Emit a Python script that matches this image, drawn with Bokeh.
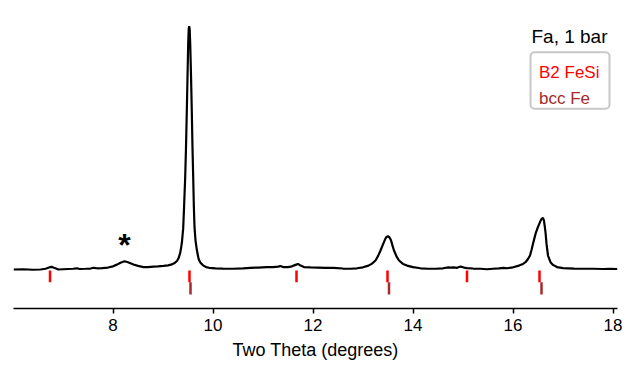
from bokeh.plotting import figure
from bokeh.models import FixedTicker, Label, BoxAnnotation, Range1d
from bokeh.embed import file_html
from bokeh.resources import INLINE
from bokeh.core.properties import value

# ---- data ----
two_theta = [
    6.01, 6.20, 6.40, 6.55, 6.65, 6.72, 6.77, 6.82, 6.91, 7.00, 7.10, 7.20, 7.28, 7.33,
    7.45, 7.55, 7.62, 7.68, 7.78, 7.90, 8.00, 8.08, 8.15, 8.23, 8.30, 8.41, 8.50, 8.61,
    8.70, 8.81, 8.90, 9.01, 9.10, 9.18, 9.24, 9.28, 9.31, 9.34, 9.36, 9.38, 9.404, 9.42,
    9.444, 9.46, 9.476, 9.49, 9.504, 9.515, 9.524, 9.534, 9.544, 9.56, 9.576, 9.59,
    9.604, 9.617, 9.63, 9.65, 9.676, 9.70, 9.716, 9.75, 9.80, 9.86, 9.92, 10.05, 10.20,
    10.41, 10.60, 10.75, 10.90, 11.08, 11.20, 11.30, 11.35, 11.40, 11.50, 11.58, 11.65,
    11.70, 11.75, 11.82, 11.95, 12.10, 12.25, 12.41, 12.60, 12.75, 12.88, 13.00, 13.11,
    13.18, 13.25, 13.30, 13.35, 13.40, 13.44, 13.47, 13.50, 13.53, 13.56, 13.59, 13.62,
    13.67, 13.72, 13.80, 13.88, 14.00, 14.15, 14.30, 14.45, 14.60, 14.71, 14.76, 14.81,
    14.88, 14.95, 15.02, 15.08, 15.20, 15.35, 15.48, 15.60, 15.72, 15.81, 15.88, 16.00,
    16.12, 16.20, 16.25, 16.30, 16.34, 16.37, 16.40, 16.43, 16.46, 16.50, 16.54, 16.57,
    16.60, 16.62, 16.64, 16.65, 16.67, 16.70, 16.75, 16.80, 16.88, 17.00, 17.22, 17.40,
    17.60, 17.80, 17.95, 18.09,
]
intensity = [
    0.0, 0.1, -0.1, 0.0, 0.3, 0.8, 1.1, 0.7, 0.0, 0.1, 0.2, 0.3, 0.5, 0.2,
    0.3, 0.4, 0.7, 0.5, 0.6, 0.8, 1.3, 2.0, 2.8, 3.4, 3.0, 2.05, 1.5, 0.95,
    1.0, 1.2, 1.3, 1.5, 1.7, 2.1, 2.8, 3.5, 4.6, 6.5, 8.6, 11.5, 17.0, 25.0,
    38.0, 50.0, 65.0, 79.0, 93.0, 99.0, 100.0, 98.5, 93.0, 80.0, 65.0, 50.0,
    38.0, 26.0, 17.5, 12.0, 8.2, 5.5, 4.1, 2.8, 1.7, 1.0, 0.7, 0.5, 0.4,
    0.3, 0.5, 0.7, 0.8, 0.95, 1.0, 1.2, 1.4, 1.0, 1.0, 1.3, 1.9,
    2.3, 1.6, 1.0, 0.9, 0.8, 0.7, 0.7, 0.4, 0.3, 0.5, 0.9, 1.6,
    2.4, 3.7, 5.5, 7.8, 10.3, 12.3, 13.4, 13.7, 13.2, 12.0, 9.8, 7.8,
    5.4, 3.7, 2.3, 1.6, 1.0, 0.5, 0.3, 0.3, 0.5, 0.9, 0.8, 0.9,
    0.7, 1.2, 0.8, 0.6, 0.4, 0.3, 0.1, 0.3, 0.5, 0.7, 0.5, 0.9,
    1.6, 2.3, 3.0, 4.3, 5.75, 8.0, 10.6, 13.0, 15.3, 17.5, 19.5, 20.8,
    21.2, 20.0, 17.0, 15.3, 10.6, 5.75, 3.0, 1.9, 1.0, 0.6, 0.4, 0.3,
    0.3, 0.2, 0.3, 0.2,
]
fesi_peaks = [6.74, 9.53, 11.67, 13.49, 15.08, 16.53]   # B2 FeSi reflections
fe_peaks = [9.55, 13.52, 16.57]                          # bcc Fe reflections
x_ticks = [8, 10, 12, 14, 16, 18]
title_text = "Fa, 1 bar"
legend_labels = ["B2 FeSi", "bcc Fe"]
x_label = "Two Theta (degrees)"
star_pos = (8.23, 9.9)

FONT = "Liberation Sans"
RED = "#ff0000"
BROWN = "#a52a2a"

p = figure(frame_width=604, frame_height=292, output_backend="svg",
           toolbar_location=None, y_axis_location=None,
           x_range=Range1d(6.01, 18.09), y_range=Range1d(-16.03, 103.99),
           min_border_left=13, min_border_right=10, min_border_top=16,
           min_border_bottom=56)
p.outline_line_color = None
p.xgrid.visible = False
p.ygrid.visible = False
p.background_fill_color = "white"
p.border_fill_color = "white"

p.line(two_theta, intensity, line_color="black", line_width=2.2)

p.segment(x0=fesi_peaks, y0=[-0.41] * len(fesi_peaks), x1=fesi_peaks,
          y1=[-5.22] * len(fesi_peaks), line_color=RED, line_width=2.5)
p.segment(x0=fe_peaks, y0=[-5.22] * len(fe_peaks), x1=fe_peaks,
          y1=[-10.28] * len(fe_peaks), line_color=BROWN, line_width=2.5)

ax = p.xaxis[0]
ax.ticker = FixedTicker(ticks=x_ticks)
ax.minor_tick_line_color = None
ax.major_tick_in = 0
ax.major_tick_out = 5
ax.major_tick_line_width = 1.5
ax.axis_line_width = 1.5
ax.axis_line_color = "black"
ax.major_tick_line_color = "black"
ax.major_label_text_font = FONT
ax.major_label_text_font_size = "17px"
ax.major_label_text_color = "black"
ax.major_label_standoff = 5
ax.axis_label = x_label
ax.axis_label_text_font = FONT
ax.axis_label_text_font_size = "18px"
ax.axis_label_text_font_style = "normal"
ax.axis_label_text_color = "black"
ax.axis_label_standoff = 6

p.add_layout(Label(x=star_pos[0], y=star_pos[1], text="*", text_font=FONT,
                   text_font_size="32px", text_font_style="bold",
                   text_align="center", text_baseline="middle",
                   text_color="black"))

p.add_layout(Label(x=17.89, y=95.8, text=title_text, text_font=FONT,
                   text_font_size="19px", text_align="right",
                   text_baseline="alphabetic", text_color="black"))

p.add_layout(BoxAnnotation(left=16.35, right=17.93, bottom=66.05, top=89.3,
                           fill_color="white", fill_alpha=1.0,
                           line_color="#c8c8c8", line_alpha=1.0, line_width=2,
                           border_radius=4, level="overlay"))
for lbl, col, yy in zip(legend_labels, [RED, BROWN], [81.1, 70.4]):
    p.add_layout(Label(x=16.52, y=yy, text=lbl, text_font=FONT,
                       text_font_size="17px", text_align="left",
                       text_baseline="alphabetic", text_color=col,
                       level="overlay"))

open("out.html", "w").write(file_html(p, INLINE))
